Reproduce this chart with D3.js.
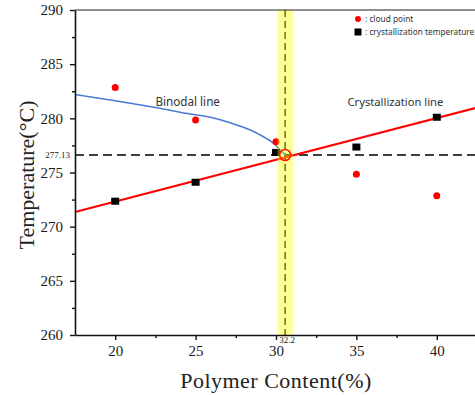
<!DOCTYPE html>
<html>
<head>
<meta charset="utf-8">
<script src="https://cdn.jsdelivr.net/npm/d3@7"></script>
<style>
  body { margin: 0; background: #fff; }
</style>
</head>
<body>
<div id="chart"></div>
<script>
// data
const contents = [20, 25, 30, 35, 40]
const cloudPoint = [282.85, 279.85, 277.85, 274.85, 272.85]
const crystTemp = [272.35, 274.1, 276.85, 277.35, 280.1]

// binodal curve (x, T) pairs
const binodalX = [17.5, 20, 22.5, 24.66, 25.91, 27.15, 28.4, 29.22, 29.84, 30.26, 30.57]
const binodalT = [282.2, 281.62, 281.0, 280.4, 280.1, 279.6, 278.92, 278.3, 277.7, 277.08, 276.62]

// crystallization line end points
const crystLineX = [17.5, 42.5]
const crystLineT = [271.35, 281.0]

// cross point and highlighted band
const crossX = 30.57
const crossT = 276.62
const crossXLabel = "32.2"
const crossTLabel = "277.13"
const bandX = [30.1, 31.08]

const yTicks = [260, 265, 270, 275, 280, 285, 290]
const yMinor = [262.5, 267.5, 272.5, 277.5, 282.5, 287.5]
const xTicks = [20, 25, 30, 35, 40]
const xMinor = [22.5, 27.5, 32.5, 37.5]

let dimensions = {
  width: 475,
  height: 395,
  margin: { top: 10, bottom: 60, left: 75, right: -2 }
}

const svg = d3.select("#chart")
              .append("svg")
              .attr("width", dimensions.width)
              .attr("height", dimensions.height)

const innerW = dimensions.width - dimensions.margin.left - dimensions.margin.right
const innerH = dimensions.height - dimensions.margin.top - dimensions.margin.bottom

const container = svg.append("g")
                     .attr("transform", `translate(${dimensions.margin.left},${dimensions.margin.top})`)

const xScale = d3.scaleLinear().domain([17.5, 42.5]).range([0, innerW])
const yScale = d3.scaleLinear().domain([260, 290]).range([innerH, 0])

const serif = "'Liberation Serif', 'Times New Roman', serif"
const sans = "'Noto Sans', 'Open Sans', sans-serif"

// dashed reference lines
container.append("line")
         .attr("x1", 0).attr("x2", innerW)
         .attr("y1", yScale(crossT)).attr("y2", yScale(crossT))
         .attr("stroke", "#000").attr("stroke-width", 1.6)
         .attr("stroke-dasharray", "9,5")

container.append("line")
         .attr("x1", xScale(crossX)).attr("x2", xScale(crossX))
         .attr("y1", 0).attr("y2", innerH)
         .attr("stroke", "#222").attr("stroke-width", 1.6)
         .attr("stroke-dasharray", "7,4")

// crystallization line
const lineData = crystLineX.map((x, i) => ({ x: x, t: crystLineT[i] }))
container.append("path")
         .datum(lineData)
         .attr("fill", "none")
         .attr("stroke", "#ff0000")
         .attr("stroke-width", 2.2)
         .attr("d", d3.line().x(d => xScale(d.x)).y(d => yScale(d.t)))

// binodal curve
const binodal = binodalX.map((x, i) => ({ x: x, t: binodalT[i] }))
container.append("path")
         .datum(binodal)
         .attr("fill", "none")
         .attr("stroke", "#4a7bd4")
         .attr("stroke-width", 1.5)
         .attr("d", d3.line().curve(d3.curveCatmullRom).x(d => xScale(d.x)).y(d => yScale(d.t)))

// markers
container.selectAll(".cloud")
         .data(contents)
         .join("circle")
         .attr("class", "cloud")
         .attr("cx", (d, i) => xScale(d))
         .attr("cy", (d, i) => yScale(cloudPoint[i]))
         .attr("r", 3.5)
         .attr("fill", "#ff0000")

container.selectAll(".cryst")
         .data(contents)
         .join("rect")
         .attr("class", "cryst")
         .attr("x", (d, i) => xScale(d) - 4)
         .attr("y", (d, i) => yScale(crystTemp[i]) - 3.5)
         .attr("width", 8)
         .attr("height", 7)
         .attr("fill", "#000")

// yellow band on top, translucent
container.append("rect")
         .attr("x", xScale(bandX[0]))
         .attr("width", xScale(bandX[1]) - xScale(bandX[0]))
         .attr("y", 0)
         .attr("height", innerH)
         .attr("fill", "#ffff00")
         .attr("opacity", 0.4)

// cross point marker
container.append("circle")
         .attr("cx", xScale(crossX))
         .attr("cy", yScale(crossT))
         .attr("r", 5.5)
         .attr("fill", "none")
         .attr("stroke", "#ff1a00")
         .attr("stroke-width", 1.6)

// axes
const xAxis = container.append("g")
                       .attr("transform", `translate(0,${innerH})`)
                       .call(d3.axisBottom(xScale).tickValues(xTicks).tickSize(5).tickSizeOuter(0).tickPadding(5))
const xAxisMinor = container.append("g")
                       .attr("transform", `translate(0,${innerH})`)
                       .call(d3.axisBottom(xScale).tickValues(xMinor).tickSize(3).tickFormat(""))
xAxisMinor.select(".domain").remove()

const yAxis = container.append("g")
                       .call(d3.axisLeft(yScale).tickValues(yTicks).tickSize(5).tickSizeOuter(0).tickPadding(7))
const yAxisMinor = container.append("g")
                       .call(d3.axisLeft(yScale).tickValues(yMinor).tickSize(3).tickFormat(""))
yAxisMinor.select(".domain").remove()

container.selectAll(".domain").attr("stroke", "#111").attr("stroke-width", 1.6)
container.selectAll(".tick line").attr("stroke", "#111").attr("stroke-width", 1.4)
container.selectAll(".tick text")
         .attr("font-family", serif)
         .attr("font-size", "15px")
         .attr("fill", "#1a1a1a")

// top frame
container.append("line")
         .attr("x1", 0).attr("x2", innerW)
         .attr("y1", 0).attr("y2", 0)
         .attr("stroke", "#222").attr("stroke-width", 1.2)

// cross value labels
container.append("text")
         .attr("x", -5)
         .attr("y", yScale(crossT))
         .attr("dy", "0.35em")
         .attr("text-anchor", "end")
         .attr("font-family", serif)
         .attr("font-size", "9px")
         .attr("fill", "#222")
         .text(crossTLabel)

container.append("text")
         .attr("x", xScale(crossX) - 6)
         .attr("y", innerH + 8)
         .attr("font-family", serif)
         .attr("font-size", "9px")
         .attr("fill", "#222")
         .text(crossXLabel)

// line labels
container.append("text")
         .attr("x", xScale(22.5))
         .attr("y", yScale(281.15))
         .attr("font-family", sans)
         .attr("font-size", "11.7px")
         .attr("fill", "#333")
         .text("Binodal line")

container.append("text")
         .attr("x", xScale(34.45))
         .attr("y", yScale(281.15))
         .attr("font-family", sans)
         .attr("font-size", "11.2px")
         .attr("fill", "#333")
         .text("Crystallization line")

// legend
const legend = container.append("g")
                        .attr("transform", `translate(${xScale(35.1)},9)`)
legend.append("circle").attr("cx", 0).attr("cy", 0).attr("r", 3).attr("fill", "#ff0000")
legend.append("text").attr("x", 7).attr("y", 0).attr("dy", "0.35em")
      .attr("font-family", sans).attr("font-size", "8.3px").attr("fill", "#333")
      .text(": cloud point")
legend.append("rect").attr("x", -3.5).attr("y", 9.5).attr("width", 7).attr("height", 7).attr("fill", "#000")
legend.append("text").attr("x", 7).attr("y", 13).attr("dy", "0.35em")
      .attr("font-family", sans).attr("font-size", "8.3px").attr("fill", "#333")
      .text(": crystallization temperature")

// axis titles
svg.append("text")
   .attr("x", dimensions.margin.left + innerW / 2)
   .attr("y", 388)
   .attr("text-anchor", "middle")
   .attr("font-family", serif)
   .attr("font-size", "22px")
   .attr("fill", "#222")
   .attr("letter-spacing", "0.5px")
   .text("Polymer Content(%)")

svg.append("text")
   .attr("transform", "translate(34,175) rotate(-90)")
   .attr("text-anchor", "middle")
   .attr("font-family", serif)
   .attr("font-size", "22px")
   .attr("fill", "#222")
   .text("Temperature(°C)")
</script>
</body>
</html>
